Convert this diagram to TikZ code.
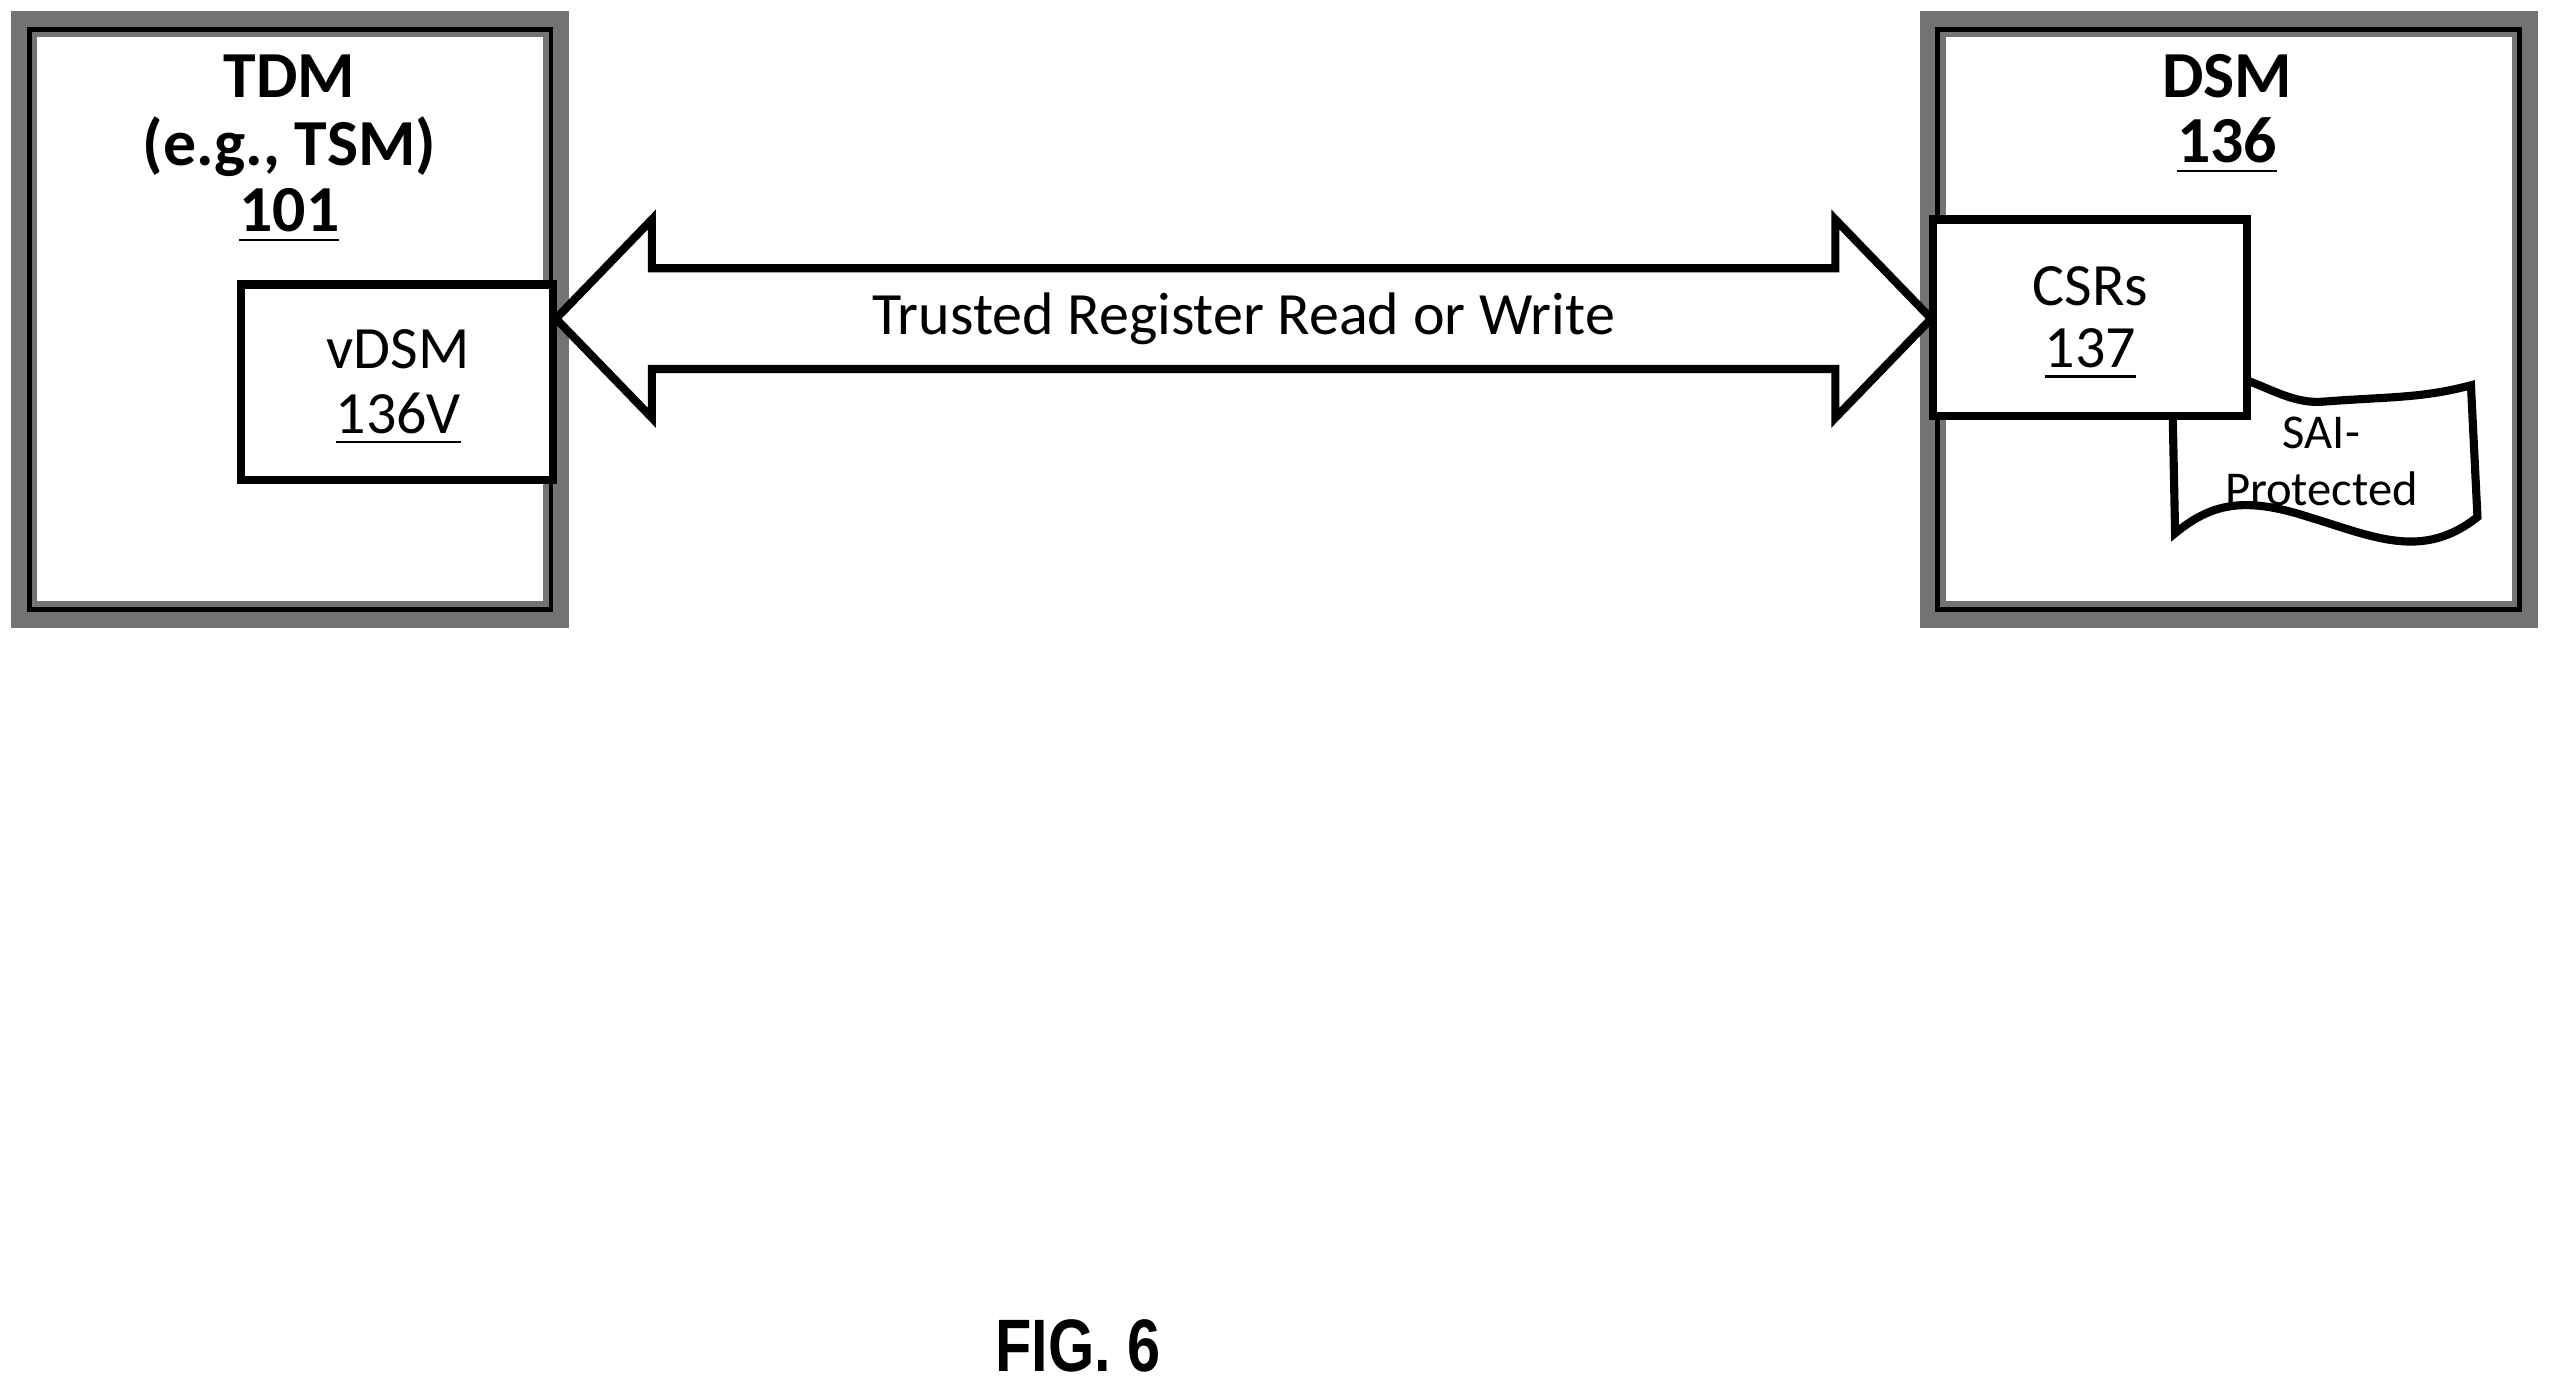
\documentclass[tikz,border=0pt]{standalone}
\usepackage{fontspec}
\setmainfont{Carlito}
\newfontfamily\figfont{Liberation Sans}
\usetikzlibrary{calc}
\def\u{0.01}

\begin{document}
\begin{tikzpicture}[x=\u cm,y=-\u cm,
    outerbox/.style={draw=black!55,line width=1.6mm,fill=white},
    innerbox/.style={draw=black,line width=0.5mm,fill=white},
    lbl/.style={font=\fontsize{10.5}{12}\selectfont,align=center}]
    \useasboundingbox (0,0) rectangle (1568,857);
    % outer boxes
    \draw [outerbox] (15,15) rectangle (342,378);
    \draw [black,thick] (18,18) rectangle (339,375);
    \draw [outerbox] (1189,15) rectangle (1553,378);
    \draw [black,thick] (1192,18) rectangle (1550,375);
    \node [lbl,font=\fontsize{11.5}{13}\selectfont\bfseries] (tdm) at (178,47) {TDM};
    \node [lbl,font=\fontsize{11.5}{13}\selectfont\bfseries] at (178,90) {(e.g., TSM)};
    \node [lbl,font=\fontsize{11.5}{13}\selectfont\bfseries] at (178,133) {\underline{101}};
    \node [lbl,font=\fontsize{11.5}{13}\selectfont\bfseries] (dsm) at (1370,47) {DSM};
    \node [lbl,font=\fontsize{11.5}{13}\selectfont\bfseries] at (1370,90) {\underline{136}};
    % SAI-protected sheet
    \draw [fill=white,line width=0.5mm] (1336,228) .. controls (1380,222) and (1400,250) .. (1430,247)
        .. controls (1470,244) and (1490,245) .. (1520,237) -- (1524,318)
        .. controls (1490,345) and (1460,330) .. (1420,318)
        .. controls (1380,305) and (1360,310) .. (1338,328) -- cycle;
    \node [font=\fontsize{8.5}{10}\selectfont,align=center] (sai) at (1428,284) {SAI-\\[0pt]Protected};
    % inner boxes
    \draw [innerbox] (148,175) rectangle (340,295);
    \node [lbl] (vdsm) at (245,215) {vDSM};
    \node [lbl] at (245,258) {\underline{136V}};
    \draw [innerbox] (1189,135) rectangle (1382,256);
    \node [lbl] (csrs) at (1286,176) {CSRs};
    \node [lbl] at (1286,218) {\underline{137}};
    % double arrow
    \coordinate (l) at (342,196);
    \coordinate (r) at (1188,196);
    \draw [line width=0.5mm,fill=white] (l) -- (401,135) -- (401,165) -- (1129,165) -- (1129,135)
        -- (r) -- (1129,257) -- (1129,227) -- (401,227) -- (401,257) -- cycle;
    \node [lbl] (trw) at ($(l)!0.5!(r)$) {Trusted Register Read or Write};
    \node [font=\figfont\bfseries\fontsize{13}{15}\selectfont,xscale=0.8] (fig) at (663,828) {FIG. 6};
\end{tikzpicture}
\end{document}
